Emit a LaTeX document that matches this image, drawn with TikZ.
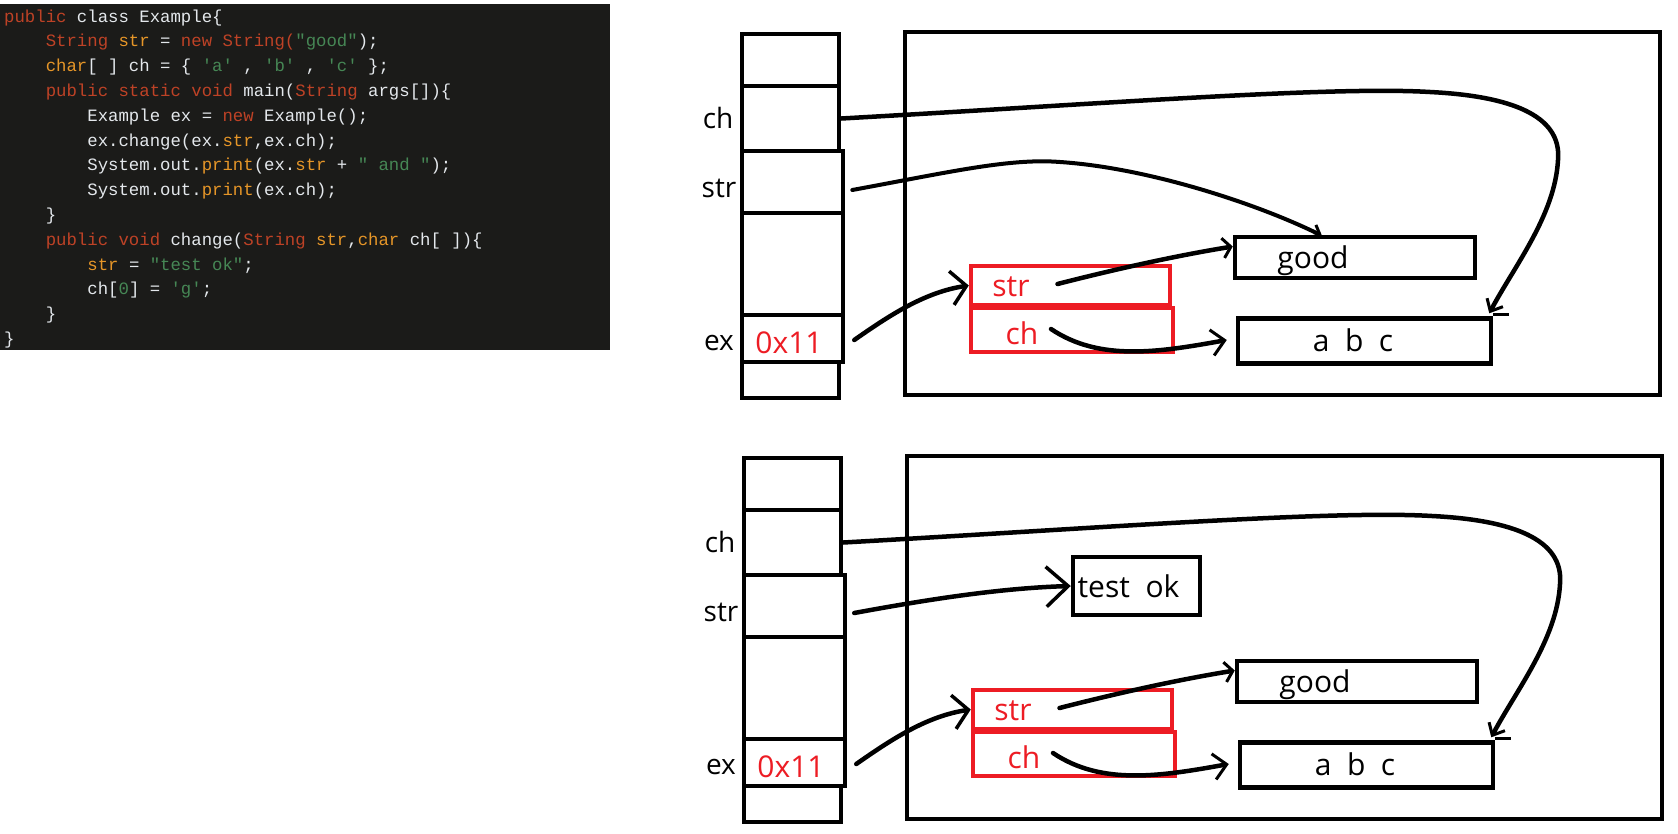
\documentclass[tikz,border=0pt]{standalone}
\usepackage{fontspec}
\setmainfont{Open Sans}
\setmonofont{Liberation Mono}
\usetikzlibrary{arrows.meta}
\definecolor{codebg}{RGB}{27,27,25}
\definecolor{ckw}{RGB}{190,66,38}
\definecolor{cor}{RGB}{230,150,40}
\definecolor{cgr}{RGB}{70,135,85}
\definecolor{cwt}{RGB}{228,232,236}
\definecolor{pred}{RGB}{237,28,36}
\newcommand{\cKw}[1]{\textcolor{ckw}{#1}}
\newcommand{\cOr}[1]{\textcolor{cor}{#1}}
\newcommand{\cGr}[1]{\textcolor{cgr}{#1}}
\tikzset{
  codeline/.style={anchor=base west, inner sep=0pt, font=\fontsize{17.33}{20}\ttfamily, text=cwt},
  cell/.style={draw, line width=4.5pt, inner sep=0pt},
  hbox/.style={draw, line width=4.5pt, inner sep=0pt},
  rbox/.style={draw=pred, line width=4.5pt, inner sep=0pt},
  lbl/.style={anchor=base, inner sep=0pt, font=\fontsize{28}{30}\selectfont},
  htext/.style={anchor=base, inner sep=0pt, font=\fontsize{30}{32}\selectfont},
  conn/.style={line width=4.5pt, line cap=round},
}
\newcommand{\drawpanel}{%
  \node[hbox, minimum width=755pt, minimum height=363pt] (heap) at (1282.5,213.5) {};
  \node[cell, minimum width=97pt, minimum height=52pt] (c0) at (790.5,60) {};
  \node[cell, minimum width=97pt, minimum height=65pt] (cch) at (790.5,118.5) {};
  \node[cell, minimum width=101pt, minimum height=62pt] (cstr) at (792.5,182) {};
  \node[cell, minimum width=101pt, minimum height=102pt] (cemp) at (792.5,264) {};
  \node[cell, minimum width=101pt, minimum height=47pt] (cex) at (792.5,338.5) {};
  \node[cell, minimum width=97pt, minimum height=36pt] (cbot) at (790.5,380) {};
  \node[lbl] (lch) at (718,128) {ch};
  \node[lbl] (lstr) at (719,197) {str};
  \node[lbl] (lex) at (719,350) {ex};
  \node[htext, text=pred] (addr) at (789,353) {0x11};
  \node[rbox, minimum width=199pt, minimum height=39pt] (rstr) at (1070.5,285.5) {};
  \node[rbox, minimum width=202pt, minimum height=44pt] (rch) at (1072,330) {};
  \node[htext, text=pred] (tstr) at (1011,296) {str};
  \node[htext, text=pred] (tch) at (1022,344) {ch};
  \node[hbox, minimum width=240pt, minimum height=41pt] (good) at (1355,257.5) {};
  \node[hbox, minimum width=253pt, minimum height=45pt] (abc) at (1364.5,341) {};
  \node[htext] (tgood) at (1313,268) {good};
  \node[htext] (tabc) at (1353,351) {a~~b~~c};
  \draw[line width=3pt] ([yshift=2pt]abc.north east) -- ++(16,0);
  % ch reference -> char array
  \draw[conn, -{Straight Barb[length=10pt,width=18pt,line width=3pt]}]
    (cch.east) .. controls (1100,104) and (1330,86) .. (1430,92)
    .. controls (1510,96) and (1562,115) .. (1558,160)
    .. controls (1555,215) and (1515,265) .. ([xshift=-4pt,yshift=3pt]abc.north east);
  % ex -> object
  \draw[conn, -{Straight Barb[length=15pt,width=34pt,line width=3.5pt]}]
    ([xshift=9pt,yshift=-1.5pt]cex.east) .. controls (890,315) and (925,292) .. (rstr.west);
  % object str -> good
  \draw[conn, -{Straight Barb[length=8pt,width=20pt,line width=3pt]}]
    ([xshift=-13pt,yshift=1.5pt]rstr.center) .. controls (1120,268) and (1180,255) .. ([yshift=11pt]good.west);
  % object ch -> abc
  \draw[conn, -{Straight Barb[length=13pt,width=26pt,line width=3pt]}]
    ([xshift=-21pt,yshift=1pt]rch.center) .. controls (1100,362) and (1160,352) .. ([xshift=-9pt,yshift=1pt]abc.west);
}
\begin{document}
\begin{tikzpicture}[x=1pt, y=-1pt]
\useasboundingbox (0,0) rectangle (1678,833);
\fill[white] (0,0) rectangle (1678,833);
% code panel
\node[fill=codebg, inner sep=0pt, minimum width=610pt, minimum height=346pt, anchor=north west] (code) at (0,4) {};
\node[codeline] (l1) at (4,22) {\cKw{public} class Example\{};
\node[codeline] (l2) at (45.6,46.8) {\cKw{String} \cOr{str} = \cKw{new String(}\cGr{"good"});};
\node[codeline] (l3) at (45.6,71.6) {\cOr{char}[ ] ch = \{ \cGr{'a'} , \cGr{'b'} , \cGr{'c'} \};};
\node[codeline] (l4) at (45.6,96.4) {\cKw{public static void} main(\cKw{String} args[])\{};
\node[codeline] (l5) at (87.2,121.2) {Example ex = \cKw{new} Example();};
\node[codeline] (l6) at (87.2,146) {ex.change(ex.\cOr{str},ex.ch);};
\node[codeline] (l7) at (87.2,170.8) {System.out.\cOr{print}(ex.\cOr{str} + \cGr{" and "});};
\node[codeline] (l8) at (87.2,195.6) {System.out.\cOr{print}(ex.ch);};
\node[codeline] (l9) at (45.6,220.4) {\}};
\node[codeline] (l10) at (45.6,245.2) {\cKw{public void} change(\cKw{String} \cOr{str},\cOr{char} ch[ ])\{};
\node[codeline] (l11) at (87.2,270) {\cOr{str} = \cGr{"test ok"};};
\node[codeline] (l12) at (87.2,294.8) {ch[\cGr{0}] = \cGr{'g'};};
\node[codeline] (l13) at (45.6,319.6) {\}};
\node[codeline] (l14) at (4,344.4) {\}};
% top panel
\begin{scope}[name prefix=a-]
  \drawpanel
  \draw[conn, line width=4pt, -{Straight Barb[length=8pt,width=14pt,line width=3pt]}]
    ([xshift=7pt,yshift=-8pt]cstr.east) .. controls (950,172) and (1010,158) .. (1060,162)
    .. controls (1150,168) and (1260,205) .. ([xshift=-33pt,yshift=-1pt]good.north);
\end{scope}
% bottom panel
\begin{scope}[shift={(2,424)}, name prefix=b-]
  \drawpanel
  \node[hbox, minimum width=127pt, minimum height=58pt] (testok) at (1134.5,162) {};
  \node[htext] (ttest) at (1126.5,173) {test~~ok};
  \draw[conn, -{Straight Barb[length=22pt,width=40pt,line width=3.5pt]}]
    ([xshift=7pt,yshift=-7pt]cstr.east) .. controls (928,175) and (1000,164) .. (testok.west);
\end{scope}
\end{tikzpicture}
\end{document}
